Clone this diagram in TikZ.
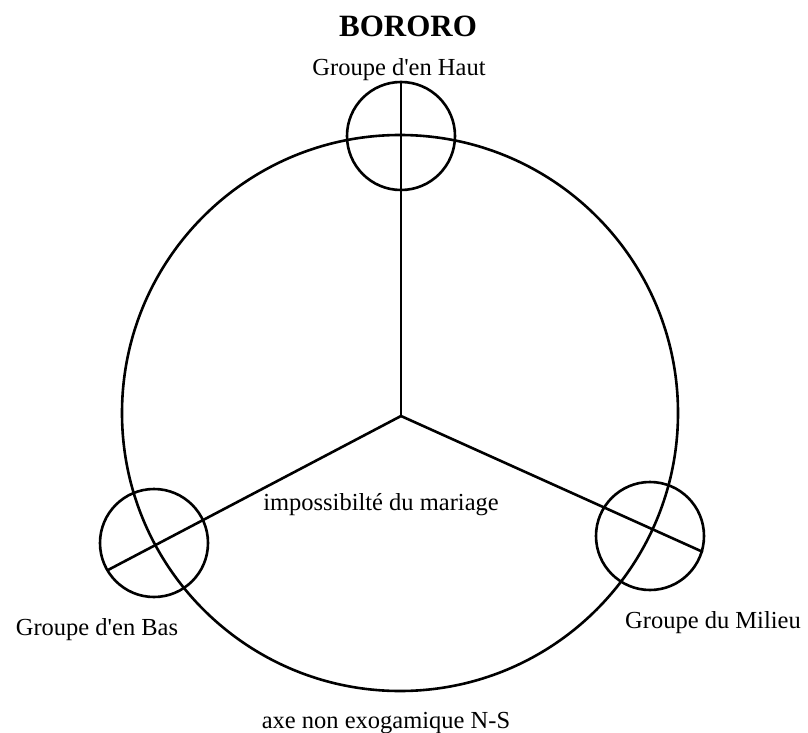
\documentclass[tikz,border=0pt]{standalone}
\usepackage{fontspec}
\setmainfont{Liberation Serif}
\usetikzlibrary{positioning,calc}

\begin{document}
\begin{tikzpicture}[x=1pt,y=-1pt,
  ring/.style={draw,circle,line width=2.6pt,inner sep=0pt},
  spoke/.style={line width=2.6pt},
  lbl/.style={anchor=base,inner sep=0pt,font=\fontsize{24.5}{28}\selectfont},
  ttl/.style={anchor=base,inner sep=0pt,font=\fontsize{31}{36}\selectfont\bfseries}
]
\useasboundingbox (0,0) rectangle (808,733);

% main circle and the three groups
\node[ring,minimum size=556pt] (big) at (400,413) {};
\node[ring,minimum size=108pt] (haut)   at (401,136) {};
\node[ring,minimum size=108pt] (bas)    at (154,543) {};
\node[ring,minimum size=108pt] (milieu) at (650,536) {};

\coordinate (hub) at (401,416);
\coordinate (hautEnd)   at (401,82);
\coordinate (basEnd)    at (108,570);
\coordinate (milieuEnd) at (703,552);

\draw[spoke] (hub) -- (hautEnd);
\draw[spoke] (hub) -- (basEnd);
\draw[spoke] (hub) -- (milieuEnd);

% labels
\node[ttl] (titre) at (408,37) {BORORO};
\node[lbl] (lhaut)   at (399,76)  {Groupe d\textquotesingle en Haut};
\node[lbl] (lbas)    at (97,635)  {Groupe d\textquotesingle en Bas};
\node[lbl] (lmilieu) at (713,628) {Groupe du Milieu};
\node[lbl] (limp)    at (381,510) {impossibilté du mariage};
\node[lbl] (laxe)    at (386,728) {axe non exogamique N-S};
\end{tikzpicture}
\end{document}
